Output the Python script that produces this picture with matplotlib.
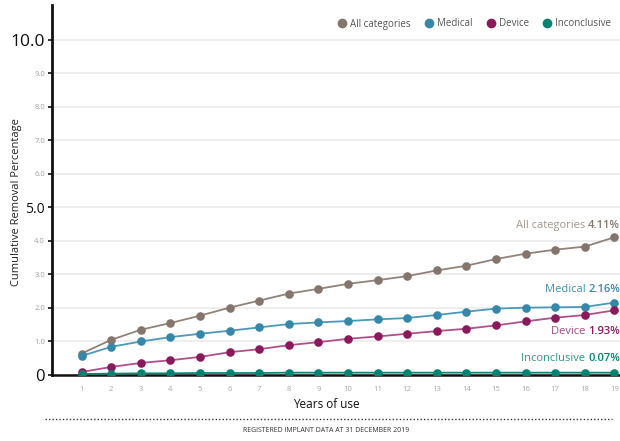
import matplotlib
matplotlib.use("Agg")
import matplotlib.pyplot as plt
from matplotlib.lines import Line2D

plt.rcParams['font.family'] = ['Open Sans', 'DejaVu Sans']

years = list(range(1, 20))
all_categories = [0.64, 1.05, 1.35, 1.55, 1.77, 2.01, 2.22, 2.43, 2.57, 2.72,
                  2.83, 2.95, 3.12, 3.26, 3.46, 3.62, 3.74, 3.83, 4.11]
medical = [0.57, 0.84, 1.00, 1.13, 1.23, 1.32, 1.42, 1.52, 1.57, 1.61,
           1.66, 1.70, 1.79, 1.89, 1.98, 2.01, 2.02, 2.03, 2.16]
device = [0.09, 0.24, 0.36, 0.44, 0.54, 0.68, 0.77, 0.89, 0.98, 1.08,
          1.15, 1.23, 1.31, 1.38, 1.48, 1.60, 1.71, 1.79, 1.93]
inconclusive = [0.03, 0.04, 0.05, 0.05, 0.06, 0.06, 0.06, 0.07, 0.07, 0.07,
                0.07, 0.07, 0.07, 0.07, 0.07, 0.07, 0.07, 0.07, 0.07]
series_names = ["All categories", "Medical", "Device", "Inconclusive"]
end_labels = ["4.11%", "2.16%", "1.93%", "0.07%"]
label_y = [4.45, 2.54, 1.31, 0.48]
y_ticks = [0, 1, 2, 3, 4, 5, 6, 7, 8, 9, 10]
y_ticklabels = ["0", "1.0", "2.0", "3.0", "4.0", "5.0", "6.0", "7.0", "8.0", "9.0", "10.0"]

marker_colors = ["#84766d", "#3688ab", "#8a1a5c", "#00846f"]
line_colors = ["#8f827a", "#4b98b8", "#b0508a", "#0a8a74"]
name_colors = ["#a3968e", "#3f8fb3", "#a2497f", "#2a9a85"]

W, H = 620, 441
fig = plt.figure(figsize=(W / 100, H / 100), dpi=100)
ax = fig.add_axes([52 / W, 1 - 375 / H, (W - 52) / W, 370 / H])

data = [all_categories, medical, device, inconclusive]
for vals, mc, lc, z in zip(data, marker_colors, line_colors, [3, 4, 5, 6]):
    ax.plot(years, vals, color=lc, lw=1.3, zorder=z)
    ax.plot(years, vals, ls='none', marker='o', ms=6.2, color=mc,
            markeredgewidth=0, zorder=z + 0.5)

ax.set_xlim(0, 19.19)
ax.set_ylim(0, 11.04)
ax.set_yticks(y_ticks)
ax.set_yticklabels(y_ticklabels)
ax.set_xticks(years)
ax.set_xticklabels([str(y) for y in years])
ax.yaxis.grid(True, color="#ebebeb", lw=1.2, zorder=0)
ax.set_axisbelow(True)

for s in ['top', 'right']:
    ax.spines[s].set_visible(False)
ax.spines['left'].set_linewidth(2.0)
ax.spines['left'].set_color('#111111')
ax.spines['bottom'].set_linewidth(1.8)
ax.spines['bottom'].set_color('#111111')
ax.spines['bottom'].set_zorder(2)

ax.tick_params(axis='x', length=0, pad=8, labelsize=5.5, labelcolor='#a5a5a5')
ax.tick_params(axis='y', length=3, width=1.2, color='#111111', pad=2)
for lbl in ax.get_yticklabels():
    t = lbl.get_text()
    if t == "10.0":
        lbl.set_fontsize(12.5)
        lbl.set_color('#111111')
    elif t == "5.0":
        lbl.set_fontsize(10)
        lbl.set_color('#111111')
    elif t == "0":
        lbl.set_fontsize(12)
        lbl.set_color('#111111')
    else:
        lbl.set_fontsize(5.5)
        lbl.set_color('#a0a0a0')

# end labels
for name, val, y, nc, mc in zip(series_names, end_labels, label_y, name_colors, marker_colors):
    vt = ax.text(1.0, y, val, transform=ax.get_yaxis_transform(), ha='right', va='center',
                 fontsize=8, color=mc, fontweight='semibold', zorder=10)
    ax.annotate(name + " ", xy=(0, 0.5), xycoords=vt, ha='right', va='center',
                fontsize=8, color=nc, zorder=10)

# legend
handles = [Line2D([], [], ls='none', marker='o', ms=7, color=c, markeredgewidth=0)
           for c in marker_colors]
fig.legend(handles, series_names, loc='center right', bbox_to_anchor=(1.0, 1 - 24 / H),
           ncol=4, frameon=False, fontsize=7, handletextpad=0.3, columnspacing=1.4,
           handlelength=1.0, labelcolor='#555555')

fig.text(17 / W, 1 - 202 / H, "Cumulative Removal Percentage", rotation=90,
         ha='center', va='center', fontsize=8, color='#222222')
fig.text(326 / W, 1 - 404 / H, "Years of use", ha='center', va='center',
         fontsize=8.5, color='#111111', fontweight='medium')
fig.add_artist(Line2D([45 / W, 612 / W], [1 - 419 / H, 1 - 419 / H],
                      transform=fig.transFigure, color='#333333', lw=1.0,
                      ls=(0, (1, 1.5))))
fig.text(326 / W, 1 - 431 / H, "REGISTERED IMPLANT DATA AT 31 DECEMBER 2019",
         ha='center', va='center', fontsize=5, color='#333333')

fig.savefig("out.png", dpi=100)
